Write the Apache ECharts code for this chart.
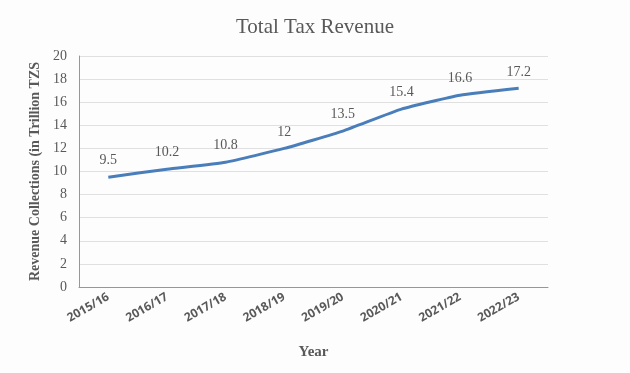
<!DOCTYPE html>
<html><head><meta charset="utf-8">
<script src="https://cdn.jsdelivr.net/npm/echarts@6/dist/echarts.min.js"></script>
<style>html,body{margin:0;padding:0;background:#fff}#c{width:630px;height:373px}</style>
</head><body><div id="c"></div>
<script>
const categories = ['2015/16','2016/17','2017/18','2018/19','2019/20','2020/21','2021/22','2022/23'];
const revenue = [9.5, 10.2, 10.8, 12, 13.5, 15.4, 16.6, 17.2];
const yTicks = {min: 0, max: 20, interval: 2};

const chart = echarts.init(document.getElementById('c'));
const serif = "'Liberation Serif','DejaVu Serif',serif";
chart.setOption({
  backgroundColor: '#fdfdfd',
  animation: false,
  title: {
    text: 'Total Tax Revenue', left: 'center', top: 12,
    textStyle: {fontFamily: serif, fontSize: 21, fontWeight: 'normal', color: '#595959'}
  },
  grid: {left: 79, right: 82, top: 56, bottom: 86},
  xAxis: {
    type: 'category', data: categories, boundaryGap: true,
    name: 'Year', nameLocation: 'middle', nameGap: 58,
    nameTextStyle: {fontFamily: serif, fontSize: 15, fontWeight: 'bold', color: '#595959'},
    axisLine: {lineStyle: {color: '#7a9cc9', width: 1}},
    axisTick: {show: false},
    axisLabel: {rotate: 30, margin: 9, fontFamily: "'Open Sans','DejaVu Sans',sans-serif", fontSize: 12, fontWeight: 'bold', color: '#595959'}
  },
  yAxis: {
    type: 'value', min: yTicks.min, max: yTicks.max, interval: yTicks.interval,
    name: 'Revenue Collections (in Trillion TZS', nameLocation: 'middle', nameGap: 33,
    nameTextStyle: {fontFamily: serif, fontSize: 14, fontWeight: 'bold', color: '#595959'},
    axisLine: {show: true, lineStyle: {color: '#7a9cc9', width: 1}},
    axisTick: {show: false},
    axisLabel: {fontFamily: serif, fontSize: 14, color: '#595959', margin: 12},
    splitLine: {lineStyle: {color: '#e0e0e0', width: 1}}
  },
  series: [{
    type: 'line', data: revenue, smooth: 0.15,
    symbol: 'circle', symbolSize: 1, showSymbol: true,
    itemStyle: {color: 'rgba(74,126,187,0)', borderWidth: 0},
    lineStyle: {color: '#4a7ebb', width: 3},
    label: {show: true, position: 'top', distance: 9, fontFamily: serif, fontSize: 14, color: '#595959', opacity: 1}
  }]
});
</script></body></html>
